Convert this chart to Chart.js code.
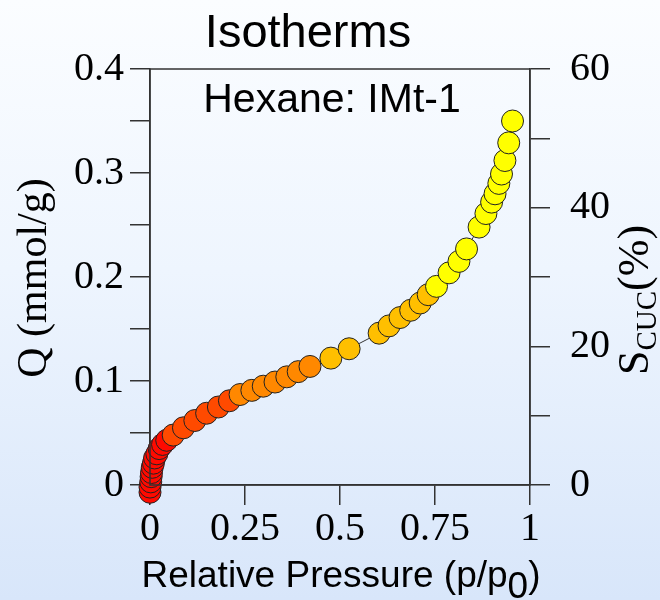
<!DOCTYPE html>
<html>
<head>
<meta charset="utf-8">
<script src="https://cdn.jsdelivr.net/npm/chart.js@4/dist/chart.umd.min.js"></script>
<style>
    html, body { margin: 0; padding: 0; }
    body {
        width: 660px;
        height: 600px;
        background: linear-gradient(to bottom, #fbfdff 0%, #eef5fe 45%, #d8e6fa 100%);
    }
    canvas { display: block; }
</style>
</head>
<body>
<canvas id="isoChart" width="660" height="600"></canvas>
<script>
// Datos (presión relativa y cantidad adsorbida)
const pressure = [
    0, 0, 0.002, 0.003, 0.004, 0.006, 0.009, 0.012, 0.018, 0.024,
    0.033, 0.044, 0.061, 0.088, 0.118, 0.149, 0.180, 0.209, 0.237, 0.268,
    0.298, 0.329, 0.360, 0.390, 0.421, 0.476, 0.524, 0.603, 0.629, 0.658,
    0.686, 0.711, 0.732, 0.754, 0.787, 0.813, 0.833, 0.866, 0.884, 0.899,
    0.908, 0.918, 0.925, 0.934, 0.944, 0.954
];
const uptake = [
    -0.007, -0.002, 0.003, 0.008, 0.012, 0.017, 0.021, 0.026, 0.030, 0.035,
    0.039, 0.043, 0.048, 0.055, 0.062, 0.069, 0.075, 0.081, 0.087, 0.091,
    0.095, 0.099, 0.104, 0.109, 0.114, 0.122, 0.131, 0.146, 0.153, 0.161,
    0.168, 0.175, 0.183, 0.191, 0.204, 0.215, 0.227, 0.248, 0.261, 0.272,
    0.280, 0.290, 0.299, 0.312, 0.329, 0.350
];

const xTicks = [0, 0.25, 0.5, 0.75, 1];
const leftLabels = [0, 0.1, 0.2, 0.3, 0.4];
const rightLabels = [0, 20, 40, 60];

const SERIF = "'Liberation Serif', 'Times New Roman', serif";
const SANS = "'Liberation Sans', Arial, sans-serif";
const AXIS = '#333333';

// Color según la cantidad adsorbida (rojo -> amarillo)
function colorFor(q) {
    if (q < 0.045) return '#ff0a00';
    if (q < 0.085) return '#ff4a00';
    if (q < 0.118) return '#ff8800';
    if (q < 0.187) return '#ffbf00';
    return '#ffff00';
}

const points = pressure.map((p, i) => ({ x: p, y: uptake[i] }));
const pointColors = uptake.map(colorFor);

function fmt(v) {
    return String(Math.round(v * 100) / 100);
}

function hasValue(list, v) {
    return list.some(t => Math.abs(t - v) < 1e-9);
}

// Textos: título, subtítulo y títulos de ejes (con subíndices)
const textPlugin = {
    id: 'texts',
    afterDraw(chart) {
        const ctx = chart.ctx;
        const area = chart.chartArea;
        ctx.save();
        ctx.fillStyle = '#000';

        // Borde del área
        ctx.strokeStyle = AXIS;
        ctx.lineWidth = 1.5;
        ctx.strokeRect(area.left, area.top, area.right - area.left, area.bottom - area.top);

        ctx.textAlign = 'center';
        ctx.textBaseline = 'alphabetic';
        ctx.font = '47px ' + SANS;
        ctx.fillText('Isotherms', 308, 47);

        ctx.font = '41px ' + SANS;
        ctx.fillText('Hexane: IMt-1', 332, 112);

        // Título eje X con subíndice
        ctx.font = '37px ' + SANS;
        const main = 'Relative Pressure (p/p';
        const sub = '0';
        const close = ')';
        const wMain = ctx.measureText(main).width;
        const wSub = ctx.measureText(sub).width;
        const wClose = ctx.measureText(close).width;
        let x0 = 341 - (wMain + wSub + wClose) / 2;
        ctx.textAlign = 'left';
        ctx.fillText(main, x0, 587);
        ctx.fillText(sub, x0 + wMain, 598);
        ctx.fillText(close, x0 + wMain + wSub, 587);

        // Título eje Y izquierdo
        ctx.save();
        ctx.translate(46, 278);
        ctx.rotate(-Math.PI / 2);
        ctx.textAlign = 'center';
        ctx.font = '42px ' + SERIF;
        ctx.fillText('Q (mmol/g)', 0, 0);
        ctx.restore();

        // Título eje Y derecho: S_CUC(%)
        ctx.save();
        ctx.translate(648, 300);
        ctx.rotate(-Math.PI / 2);
        ctx.textAlign = 'left';
        ctx.font = '44px ' + SERIF;
        const wS = ctx.measureText('S').width;
        ctx.font = '29px ' + SERIF;
        const wC = ctx.measureText('CUC').width;
        ctx.font = '44px ' + SERIF;
        const wP = ctx.measureText('(%)').width;
        let s0 = -(wS + wC + wP) / 2;
        ctx.fillText('S', s0, 0);
        ctx.font = '29px ' + SERIF;
        ctx.fillText('CUC', s0 + wS, 8);
        ctx.font = '44px ' + SERIF;
        ctx.fillText('(%)', s0 + wS + wC, 0);
        ctx.restore();

        ctx.restore();
    }
};

const ctx = document.getElementById('isoChart');
new Chart(ctx, {
    type: 'scatter',
    data: {
        datasets: [{
            label: 'Hexane: IMt-1',
            data: points,
            showLine: true,
            borderColor: '#333333',
            borderWidth: 1,
            pointRadius: 11,
            pointHoverRadius: 11,
            pointBackgroundColor: pointColors,
            pointBorderColor: '#222222',
            pointBorderWidth: 1,
            clip: false,
            yAxisID: 'y'
        }]
    },
    options: {
        responsive: false,
        animation: false,
        layout: { padding: { top: 69, left: 0, right: 0, bottom: 0 } },
        plugins: {
            legend: { display: false },
            tooltip: { enabled: false }
        },
        scales: {
            x: {
                type: 'linear',
                position: 'bottom',
                min: 0,
                max: 1,
                afterBuildTicks: scale => {
                    scale.ticks = xTicks.map(v => ({ value: v }));
                },
                ticks: {
                    font: { family: SERIF, size: 40 },
                    color: '#000',
                    padding: 0,
                    maxRotation: 0,
                    autoSkip: false,
                    callback: v => fmt(v)
                },
                grid: {
                    drawOnChartArea: false,
                    tickLength: 20,
                    color: AXIS,
                    lineWidth: 1.5
                },
                border: { color: AXIS, width: 1.5 },
                afterFit: scale => { scale.height = 115; }
            },
            y: {
                position: 'left',
                min: 0,
                max: 0.4,
                ticks: {
                    stepSize: 0.05,
                    font: { family: SERIF, size: 40 },
                    color: '#000',
                    padding: 6,
                    autoSkip: false,
                    callback: v => hasValue(leftLabels, v) ? fmt(v) : ''
                },
                grid: {
                    drawOnChartArea: false,
                    tickLength: 20,
                    color: AXIS,
                    lineWidth: 1.5
                },
                border: { color: AXIS, width: 1.5 },
                afterFit: scale => { scale.width = 150; }
            },
            y2: {
                position: 'right',
                min: 0,
                max: 60,
                ticks: {
                    stepSize: 10,
                    font: { family: SERIF, size: 40 },
                    color: '#000',
                    padding: 20,
                    autoSkip: false,
                    callback: v => hasValue(rightLabels, v) ? String(v) : ''
                },
                grid: {
                    drawOnChartArea: false,
                    tickLength: 20,
                    color: AXIS,
                    lineWidth: 1.5
                },
                border: { color: AXIS, width: 1.5 },
                afterFit: scale => { scale.width = 130; }
            }
        }
    },
    plugins: [textPlugin]
});
</script>
</body>
</html>
